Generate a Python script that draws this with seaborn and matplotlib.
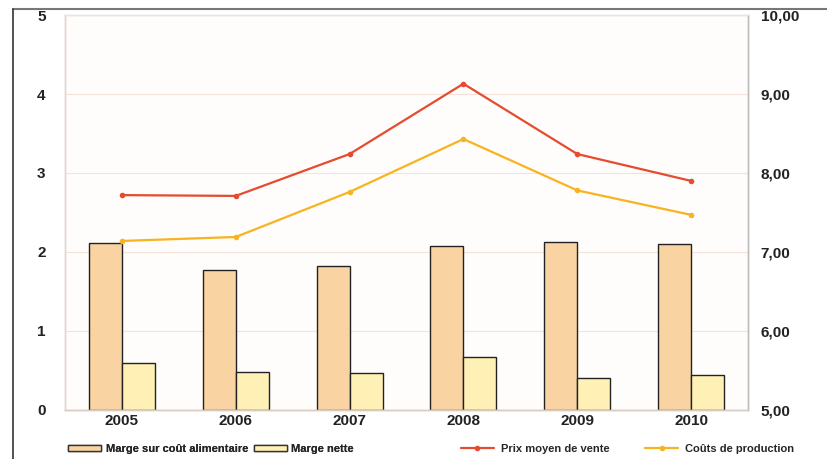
import numpy as np
import pandas as pd
import seaborn as sns
import matplotlib.pyplot as plt
from matplotlib.lines import Line2D
from matplotlib.ticker import FuncFormatter

years = ['2005', '2006', '2007', '2008', '2009', '2010']
marge_aliment = [2.11, 1.77, 1.82, 2.08, 2.13, 2.10]
marge_nette = [0.59, 0.48, 0.47, 0.67, 0.40, 0.44]
prix_vente = [7.72, 7.71, 8.24, 9.13, 8.24, 7.90]
couts_prod = [7.14, 7.19, 7.76, 8.43, 7.78, 7.47]

bar_labels = ['Marge sur coût alimentaire', 'Marge nette']
line_labels = ['Prix moyen de vente', 'Coûts de production']

C_BAR1 = '#F9D3A2'
C_BAR2 = '#FFF1B5'
C_RED = '#E54B2E'
C_YEL = '#F8B320'


def main():
    sns.set_theme(style='white')
    plt.rcParams['font.family'] = ['Liberation Sans', 'DejaVu Sans']

    df = pd.DataFrame({
        'year': years * 2,
        'value': marge_aliment + marge_nette,
        'serie': [bar_labels[0]] * 6 + [bar_labels[1]] * 6,
    })

    fig = plt.figure(figsize=(8.27, 4.59), dpi=100)
    ax = fig.add_axes([0.0786, 0.1068, 0.8259, 0.8605])
    ax.set_facecolor('#FEFDFB')

    sns.barplot(data=df, x='year', y='value', hue='serie',
                palette=[C_BAR1, C_BAR2], saturation=1, width=0.58, gap=0,
                edgecolor='#222222', linewidth=1.0, ax=ax, legend=False)

    ax.set_ylim(0, 5)
    ax.set_xlim(-0.5, 5.5)
    ax.set_yticks(range(6))
    ax.yaxis.grid(True, color='#F3E3DA', linewidth=0.8)
    ax.set_axisbelow(True)
    ax.set_xlabel('')
    ax.set_ylabel('')
    ax.tick_params(axis='both', length=0, labelsize=11)
    ax.tick_params(axis='y', pad=14)
    ax.tick_params(axis='x', pad=3)
    for lab in ax.get_xticklabels() + ax.get_yticklabels():
        lab.set_fontweight('bold')
        lab.set_color('#222222')

    ax2 = ax.twinx()
    x = np.arange(len(years))
    sns.lineplot(x=x, y=prix_vente, color=C_RED, marker='o', markersize=4,
                 markeredgewidth=0, linewidth=1.6, ax=ax2)
    sns.lineplot(x=x, y=couts_prod, color=C_YEL, marker='o', markersize=4,
                 markeredgewidth=0, linewidth=1.6, ax=ax2)
    ax2.set_ylim(5, 10)
    ax2.set_yticks(range(5, 11))
    ax2.yaxis.set_major_formatter(FuncFormatter(lambda v, p: f'{v:.2f}'.replace('.', ',')))
    ax2.tick_params(axis='y', length=0, labelsize=11, pad=9)
    for lab in ax2.get_yticklabels():
        lab.set_fontweight('bold')
        lab.set_color('#222222')

    for a in (ax, ax2):
        a.spines['top'].set_color('#EDE3DC')
        a.spines['left'].set_color('#E3D6CC')
        a.spines['bottom'].set_color('#D9CBC0')
        a.spines['right'].set_color('#BDBDBD')
        for s in a.spines.values():
            s.set_linewidth(1.0)

    # outer frame lines
    fig.add_artist(Line2D([0.016, 1.0], [0.981, 0.981], color='#777777', linewidth=1.5))
    fig.add_artist(Line2D([0.016, 0.016], [0.0, 0.981], color='#333333', linewidth=1.2))

    bar_handles = [plt.Rectangle((0, 0), 1, 1, facecolor=c, edgecolor='#333333', linewidth=1.0)
                   for c in (C_BAR1, C_BAR2)]
    leg1 = fig.legend(bar_handles, bar_labels, loc='center left',
                      bbox_to_anchor=(0.07, 0.022), ncol=2, frameon=False,
                      handlelength=3.0, handleheight=0.5, handletextpad=0.4,
                      columnspacing=0.5, prop={'size': 8, 'weight': 'bold'})
    line_handles = [Line2D([0], [0], color=c, marker='o', markersize=4,
                           markeredgewidth=0, linewidth=1.6)
                    for c in (C_RED, C_YEL)]
    fig.legend(line_handles, line_labels, loc='center left',
               bbox_to_anchor=(0.545, 0.022), ncol=2, frameon=False,
               handlelength=3.0, handletextpad=0.6, columnspacing=3.2,
               prop={'size': 8, 'weight': 'bold'})
    fig.add_artist(leg1)

    fig.savefig('out.png', dpi=100)


if __name__ == '__main__':
    main()
